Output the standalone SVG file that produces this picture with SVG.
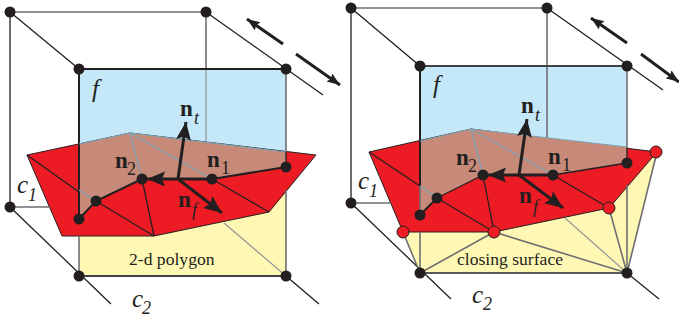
<svg xmlns="http://www.w3.org/2000/svg" width="679" height="320" viewBox="0 0 679 320">
<style>
text{font-family:"Liberation Serif","Times New Roman",serif;fill:#231f20}
.v{font-style:italic;font-size:25px}
.s{font-style:italic;font-size:18px}
.n{font-weight:bold;font-size:23px}
.d{font-size:18px}
.l{font-size:17.6px}
.k{fill:none;stroke:#231f20;stroke-width:1.3}
.g{fill:none;stroke:#6d6e71;stroke-width:1.6}
.g2{fill:none;stroke:#939598;stroke-width:1.2}
.b{fill:none;stroke:#7fa3b5;stroke-width:1.2}
.h{fill:none;stroke:#231f20;stroke-width:2}
.a{fill:none;stroke:#231f20;stroke-width:3}
.nd{fill:#231f20}
.rn{fill:#ed1c24;stroke:#231f20;stroke-width:1}
</style>
<defs>
<marker id="ah" markerUnits="userSpaceOnUse" markerWidth="22" markerHeight="16" refX="18" refY="7.5" orient="auto"><path d="M0 0L18 7.5L0 15L3 7.5Z" fill="#231f20"/></marker>
<marker id="as" markerUnits="userSpaceOnUse" markerWidth="16" markerHeight="12" refX="13" refY="5" orient="auto"><path d="M0 0L13 5L0 10L2 5Z" fill="#231f20"/></marker>
</defs>

<g id="left-fills">
<rect x="79" y="69" width="207" height="85" fill="#c5e8f9"/>
<rect x="79" y="190" width="207" height="86" fill="#fff8b5"/>
<polygon points="27,155 130,133 316,155 269,212 154,236 62,236" fill="#ed1c24" stroke="#231f20" stroke-width="1"/>
<polygon points="79,144 130,133 286,152 286,167 212,179 142,179 96,201 79,219" fill="#c78a78"/>
</g>
<g id="right-fills">
<rect x="420" y="66" width="207" height="85" fill="#c5e8f9"/>
<polygon points="403,232 420,273 627,273 657,152 609,208 494,232" fill="#fff8b5"/>
<polygon points="369,152 471,129 657,152 609,208 494,232 403,232" fill="#ed1c24" stroke="#231f20" stroke-width="1"/>
<polygon points="420,141 471,129 627,147 627,163 553,175 483,175 437,198 420,215" fill="#c78a78"/>
</g>

<g id="connectors">
<path class="g" d="M10 12H206M206 69V12M10 207H50"/>
<path class="g2" d="M206 69V141M224 223L286 276"/>
<path class="k" d="M10 12V207M10 12L79 69M206 12L323 95M10 207L111 304M286 276L319 304"/>
<path class="h" d="M79 69H286M79 69V219"/>
<path class="g" d="M286 69V152M286 190V276"/>
<path class="k" d="M286 152V167"/>
<path class="g" d="M79 236V276"/>
<path class="h" style="stroke:#414042" d="M79 276H286"/>
<path class="b" d="M79 144L130 133L286 152M130 133L142 179M130 133L212 179M79 190L96 201"/>
<path class="k" d="M27 155L79 192M96 201L154 236M142 179L154 236M212 179L269 212"/>
<path class="h" d="M79 219L96 201L142 179M212 179L286 167"/>
<path class="a" d="M212 179H147" marker-end="url(#ah)"/>
<path class="a" d="M178 179L186 122" marker-end="url(#ah)"/>
<path class="a" d="M178 179L222 213" marker-end="url(#ah)"/>
<path class="a" d="M283 44L247 19" marker-end="url(#as)"/>
<path class="a" d="M296 54L340 85" marker-end="url(#as)"/>

<path class="g" d="M351 8H547M547 66V8M351 203H391"/>
<path class="g" d="M547 66V138"/>
<path class="k" d="M351 8V203M351 8L420 66M547 8L663 90M351 203L451 299M627 273L659 299"/>
<path class="h" style="stroke:#414042" d="M420 66H627"/>
<path class="h" d="M420 66V186"/>
<path class="g" d="M420 186V215M420 232V273M627 66V147"/>
<path class="k" d="M627 147V163"/>
<path class="g" d="M627 185V273"/>
<path class="h" style="stroke:#58595b" d="M420 273H627"/>
<path class="b" d="M420 141L471 129L627 147M471 129L483 175M471 129L553 175M420 186L437 198"/>
<path class="k" d="M369 152L420 186M437 198L494 232M483 175L494 232M553 175L609 208"/>
<path class="h" d="M420 215L437 198"/>
<path class="k" d="M437 198L483 175M553 175L627 163"/>
<path class="g" d="M403 232L420 273M494 232L420 273M494 232L627 273M609 208L627 273M657 152L627 273"/>
<path class="g2" d="M565 218L627 273"/>
<path class="a" d="M553 175H488" marker-end="url(#ah)"/>
<path class="a" d="M519 175L527 119" marker-end="url(#ah)"/>
<path class="a" d="M519 175L563 208" marker-end="url(#ah)"/>
<path class="a" d="M627 43L591 18" marker-end="url(#as)"/>
<path class="a" d="M641 54L679 82" marker-end="url(#as)"/>
</g>

<g id="nodes-left" class="nd">
<circle cx="10" cy="12" r="5.5"/><circle cx="206" cy="12" r="5.5"/><circle cx="79" cy="69" r="5.5"/><circle cx="286" cy="69" r="5.5"/>
<circle cx="10" cy="207" r="5.5"/><circle cx="79" cy="276" r="5.5"/><circle cx="286" cy="276" r="5.5"/>
<circle cx="79" cy="219" r="5.5"/><circle cx="96" cy="201" r="5.5"/><circle cx="142" cy="179" r="5.5"/><circle cx="212" cy="179" r="5.5"/><circle cx="286" cy="167" r="5.5"/>
</g>
<g id="nodes-right" class="nd">
<circle cx="351" cy="8" r="5.5"/><circle cx="547" cy="8" r="5.5"/><circle cx="420" cy="66" r="5.5"/><circle cx="627" cy="66" r="5.5"/>
<circle cx="351" cy="203" r="5.5"/><circle cx="420" cy="273" r="5.5"/><circle cx="627" cy="273" r="5.5"/>
<circle cx="420" cy="215" r="5.5"/><circle cx="437" cy="198" r="5.5"/><circle cx="483" cy="175" r="5.5"/><circle cx="553" cy="175" r="5.5"/><circle cx="627" cy="163" r="5.5"/>
</g>
<g id="nodes-red">
<circle class="rn" cx="403" cy="232" r="6"/><circle class="rn" cx="494" cy="232" r="6"/><circle class="rn" cx="609" cy="208" r="6"/><circle class="rn" cx="656" cy="152" r="6"/>
</g>

<g id="labels">
<text class="v" x="92" y="97">f</text>
<text class="n" x="180" y="116">n</text><text class="s" x="194" y="124">t</text>
<text class="n" x="115" y="168">n</text><text class="d" x="127" y="175">2</text>
<text class="n" x="207" y="167">n</text><text class="d" x="221" y="174">1</text>
<text class="n" x="178" y="207">n</text><text class="s" x="192" y="216">f</text>
<text class="v" x="17" y="193">c</text><text class="s" x="28" y="201">1</text>
<text class="v" x="132" y="307">c</text><text class="s" x="142" y="314">2</text>
<text class="l" x="129" y="265">2-d polygon</text>

<text class="v" x="433" y="93">f</text>
<text class="n" x="521" y="113">n</text><text class="s" x="535" y="121">t</text>
<text class="n" x="456" y="165">n</text><text class="d" x="468" y="172">2</text>
<text class="n" x="548" y="164">n</text><text class="d" x="562" y="171">1</text>
<text class="n" x="519" y="203">n</text><text class="s" x="533" y="213">f</text>
<text class="v" x="358" y="189">c</text><text class="s" x="369" y="197">1</text>
<text class="v" x="472" y="303">c</text><text class="s" x="483" y="310">2</text>
<text class="l" x="457" y="265">closing surface</text>
</g>
</svg>
